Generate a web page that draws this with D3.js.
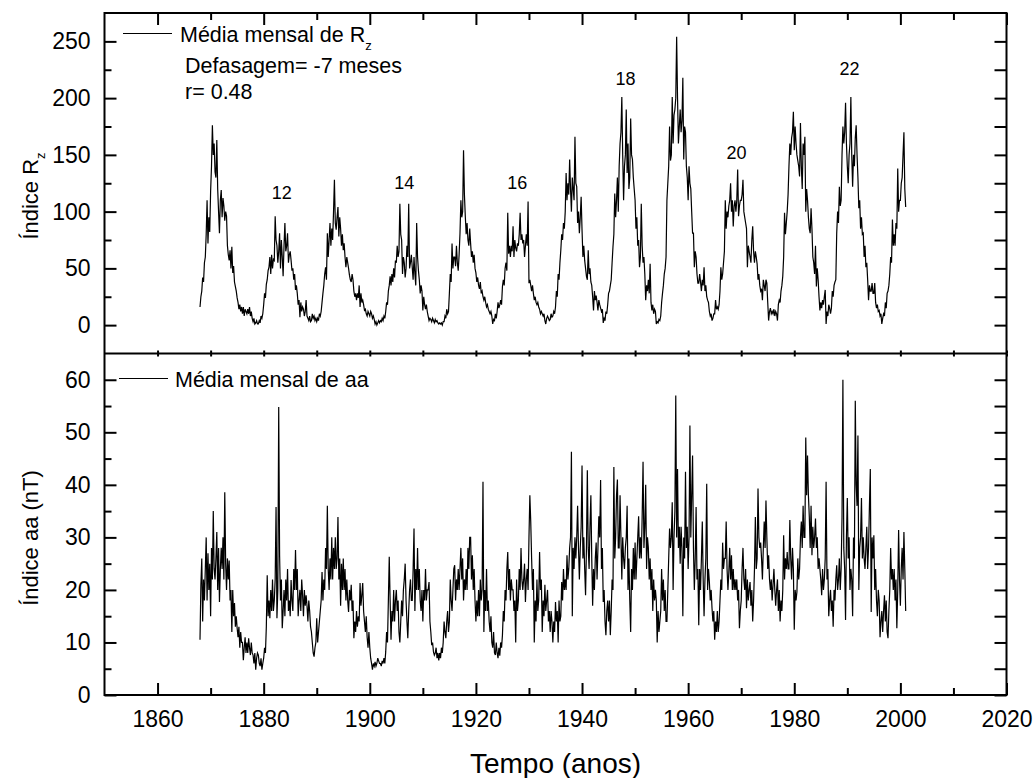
<!DOCTYPE html>
<html>
<head>
<meta charset="utf-8">
<script src="https://cdnjs.cloudflare.com/ajax/libs/d3/7.8.5/d3.min.js"></script>
<style>
body { margin: 0; background: #fff; }
svg { display: block; font-family: Arial, "Liberation Sans", sans-serif; }
.tick text { font-family: Arial, "Liberation Sans", sans-serif; font-size: 23px; fill: #000; }
.tick line { stroke: #000; stroke-width: 2; }
</style>
</head>
<body>
<svg id="chart" width="1036" height="778"></svg>
<script>
var startYear = 1868;
var stepYears = 1 / 6;

// sunspot number Rz, 1868.0 ... 2001.0 (five years per row)
var rzValues = [
  16,25,30,42,38,55, 60,80,110,72,95,82, 118,140,176,150,160,135, 130,163,120,100,81,110, 119,95,112,105,92,100,
  96,70,62,57,66,50, 69,46,52,38,34,30, 24,20,14,18,12,16, 10,16,8,14,12,10, 14,10,16,8,12,6,
  3,6,1,2,4,1, 1,4,2,8,6,10, 18,28,24,36,40,48, 51,60,45,62,50,58, 57,96,75,70,55,65,
  81,50,75,60,43,70, 90,65,70,81,55,62, 65,57,48,50,40,45, 31,35,28,18,22,7, 20,12,16,14,8,12,
  22,8,6,4,8,3, 4,10,6,8,4,6, 3,6,4,10,8,12, 20,28,35,45,51,40, 81,60,75,90,70,85,
  75,100,128,90,84,95, 104,78,95,85,70,80, 66,72,60,51,60,55, 50,44,40,38,45,40, 30,25,28,22,28,24,
  35,16,28,20,22,18, 13,14,10,8,12,10, 8,12,10,6,8,5, 1,3,0,2,4,2, 4,3,6,4,8,6,
  12,20,18,30,35,43, 35,45,38,50,42,57, 55,70,60,65,107,80, 75,45,60,55,42,50, 70,60,107,50,55,62,
  51,40,60,45,35,90, 60,48,40,28,35,30, 13,25,18,14,18,12, 8,4,6,5,3,6, 4,2,5,3,4,2,
  1,2,1,2,0,3, 3,8,6,14,10,12, 28,45,38,72,50,60, 60,52,70,55,48,62, 81,110,95,100,154,115,
  96,80,90,75,70,85, 72,60,65,55,62,50, 46,38,42,35,32,38, 28,30,25,22,25,20, 16,18,14,12,10,12,
  8,1,5,4,10,6, 12,20,15,18,22,18, 34,40,35,50,55,48, 99,63,70,60,70,65, 87,60,75,68,65,72,
  70,80,99,75,80,72, 75,60,70,80,70,109, 37,40,35,30,35,28, 22,25,20,18,20,16, 14,10,12,10,8,10,
  4,1,6,8,6,4, 5,10,7,8,12,10, 16,30,25,45,40,55, 66,80,75,90,85,100, 134,110,125,115,146,120,
  100,130,120,110,166,125, 122,90,100,81,95,113, 84,60,70,57,50,43, 40,66,45,50,38,35, 25,13,30,22,26,20,
  13,22,18,15,12,14, 2,6,4,12,10,18, 28,30,35,40,55,69, 80,116,95,110,130,100, 140,160,170,201,150,110,
  140,150,190,134,160,120, 130,182,150,146,130,120, 110,85,95,70,75,51, 60,107,70,55,60,45, 22,35,30,40,28,54,
  20,13,18,10,14,12, 1,3,2,5,4,8, 20,28,35,45,50,60, 110,125,140,175,145,150, 201,160,185,190,200,254,
  200,160,175,190,170,180, 218,146,175,170,140,130, 110,140,125,120,100,81, 81,51,65,60,45,37, 37,45,38,30,40,35,
  51,30,35,25,22,20, 12,8,10,4,6,10, 10,22,14,16,14,18, 30,51,40,45,55,65, 110,85,100,95,105,110,
  125,100,110,87,105,110, 100,110,137,96,105,110, 110,115,128,100,95,90, 85,51,70,65,60,55, 75,87,65,55,65,60,
  54,40,45,35,30,32, 22,40,35,30,40,37, 20,4,12,15,10,12, 10,14,8,12,10,4, 18,22,20,30,35,43,
  60,99,80,90,100,115, 140,160,150,165,170,188, 154,175,160,150,145,140, 131,178,140,120,160,150, 166,100,120,110,95,85,
  81,103,85,60,55,45, 70,34,50,40,25,13, 20,15,22,18,25,31, 1,12,8,18,15,10, 15,30,25,35,38,40,
  81,100,90,122,105,110, 150,175,160,170,196,160, 140,125,150,160,201,150, 122,150,140,165,176,150, 130,103,110,85,95,80,
  81,60,70,51,55,40, 22,35,30,30,37,28, 28,37,20,15,18,12, 13,8,10,1,6,10, 8,20,15,28,30,35,
  45,60,55,93,70,80, 70,90,85,138,100,110, 110,125,130,150,170,120,
  104
];

// geomagnetic index aa (nT), 1868.0 ... 2001.0 (five years per row)
var aaValues = [
  10.5,21,26,14,22,18, 24,30,18,27,20,25, 15,28,22,35,24,22, 26,31,20,28,17.7,24, 28,24,30,22,38.6,25,
  20,26,22,25.6,18,20, 12,20,15,17.5,13,15, 12.7,11,13,9,12,10, 10,6.6,9,11,8,10, 8,10.8,9,7.6,10,8,
  7.6,6,8,4.8,7,8, 7.6,6,5.5,7,4.8,6, 7,9,8,13,22.8,15, 18,14.6,20,16,22,16, 18,22,35.8,14.6,20,54.8,
  26.6,18,22,12.7,16,20, 15,22,18,24,16,18, 15,21.9,18,16,24,20, 27.6,20,24,15,18,20, 16,22,19,15,20,17,
  19,17,14,18,16,13, 12,10,8,7.3,9,10, 14.6,10,12,14,16,18, 23.4,18,22,20,28,24, 36,24,20,26,22,30,
  22,28,24,30,24,26, 33.9,22,26,17,25,20, 26,20,24,18,22,18, 15.8,20,18,21,16,18, 10.8,14,12,16,13,15,
  14,21.3,17,19,21.3,16, 14,12,15,11,9,12, 9,7,6,4.8,6,5.5, 6.3,5.5,6,7,6.5,6, 6,5.5,6.5,6,7,6,
  8.2,12,10,18,26.3,18, 10.5,16,14,20,14,18, 20,16,18,12,10,14, 18,15,20,22,25,18, 14,10.8,16,20,22,18,
  18,24,31.7,16,24,20, 28,20,24,18,16,20, 14,20,18,24,18,20, 20,21.5,14,12,9.5,10, 8.2,7.6,8,9,7,8,
  6.6,8,7,9,8,10, 14,12,10.8,14,16,12, 14,22,18,16,20,24, 24.7,18,22,20,24,20, 24,28,22,26,18,22,
  20,24,20,28,24,30, 30,22,26.6,20,24,18, 14,18,15,20,15,22, 18,20,40.6,12,20,16, 24,16,18,14,12,15,
  10,9,12,8,7.6,10, 8,7,9,7.5,10,9, 11.4,16,14,20,18,24, 27.2,20,24,18,22,20, 20,16,18,10,22,16,
  18,24,20,28,22,20, 22,25,17.7,22,24,20, 30,38,33,26,20,24, 10,18,14,22,16,18, 27.2,20,22,12,18,15,
  21,16,18,20,14,16, 12,16,14,10,14,12, 17.7,14,16,10,18,14, 15,21.5,18,24,20,22, 20,26.6,22,24,28,30,
  46.3,15,28,24,30,26, 30,36,28,22,28,32, 43.7,26,30,24,19,28, 42.8,28,24,32,38,26, 17,24,20,26,29,22,
  28,34,30,40.9,24,28, 17.7,20,14,11.4,16,18, 14,18,11.4,16,22,20, 43.4,26,30,38,41,28, 28,38,30,22,30,26,
  24,28,30,36,20,26, 18,12,24,20,28,22, 29,22,26,30,34,26, 30,26,34,44.4,28,32, 40,24,30,28,22,26,
  20,24,16,22,18,20, 18,10,16,12,14,16, 24,18,22,16,20,14, 14,20,26,31.7,28,30, 36.7,20,30,35,57,30,
  43,28,32,25,32,28, 15,30,26,42.5,28,32, 24,30,51.3,30,38,45.6, 28,20,26,35.8,22,24, 13.3,24,20,26,33,22,
  15,22,26,40.2,20,24, 21.5,18,20,16.5,14,16, 10.5,14,12,16,12,14, 18,22,20,29,24,26, 26,33,24,20,23.4,28,
  22,26.6,20,24,20,22, 20,22,18,20,12.7,16, 18,24,28,22,20,24, 16.5,22,18,20,21.5,17, 20,14,18,24,33.9,24,
  26,39.3,30,28,29,26, 22,28,33,28,37,30, 24,26.6,22,20,22,18, 21,24,20,17,20,22, 16,20,14,18,16,20,
  30.4,22,26,24,27.2,24, 24,33.3,26,22,28,24, 12.4,20,18,19.6,26,22, 24,30,33,28,36,30, 30,49,38,45.6,38,34,
  28,36,26.6,32,28,30, 33.6,28,30,24,26,24, 22,19,24,20,22,26, 40.6,22,24,15,18,20, 16,18,13,20,18,22,
  24.7,20,22,26,20,24, 33.9,60,28,24,14.3,30, 37.5,26,30,20,24,22, 15,30,26,56,40,36, 49.4,20,28,30,37.5,26,
  30,26,24,28,32,24, 28,36,43,15.8,30,26, 30.4,20,24,18,15,20, 18,11,14,16,12,16, 19,14,18,12,10.8,16,
  20,28,22,24,20,24, 18,22,12.7,20,31.4,22, 17,24,28,22,31,24,
  16
];

// axis ticks
var yearMajor = [1860, 1880, 1900, 1920, 1940, 1960, 1980, 2000, 2020];
var yearMinor = [1870, 1890, 1910, 1930, 1950, 1970, 1990, 2010];
var rzMajor = [0, 50, 100, 150, 200, 250];
var rzMinor = [25, 75, 125, 175, 225];
var aaMajor = [0, 10, 20, 30, 40, 50, 60];
var aaMinor = [5, 15, 25, 35, 45, 55];

// solar cycle numbers written over the Rz curve
var cycleNames = ["12", "14", "16", "18", "20", "22"];
var cycleYears = [1883.4, 1906.5, 1927.8, 1948.2, 1969.1, 1990.4];
var cycleLevels = [111, 120, 120, 212, 146, 220];

var svg = d3.select("#chart");
var M = {left: 104.5, right: 1006.5, top: 13, mid: 353.5, bottom: 695};

var x = d3.scaleLinear().domain([1850, 2020]).range([M.left, M.right]);
var yTop = d3.scaleLinear().domain([-25, 275]).range([M.mid, M.top]);
var yBot = d3.scaleLinear().domain([0, 65]).range([M.bottom, M.mid]);

function noDomain(g) { g.select(".domain").remove(); }

function yearOf(i) { return startYear + i * stepYears; }

// series lines
svg.append("path")
    .datum(rzValues)
    .attr("fill", "none")
    .attr("stroke", "#000")
    .attr("stroke-width", 1.2)
    .attr("d", d3.line().x(function(d, i) { return x(yearOf(i)); }).y(function(d) { return yTop(d); }));

svg.append("path")
    .datum(aaValues)
    .attr("fill", "none")
    .attr("stroke", "#000")
    .attr("stroke-width", 1.2)
    .attr("d", d3.line().x(function(d, i) { return x(yearOf(i)); }).y(function(d) { return yBot(d); }));

// x axis at the bottom
svg.append("g")
    .attr("transform", "translate(0," + M.bottom + ")")
    .call(d3.axisBottom(x).tickValues(yearMajor).tickSize(-12).tickPadding(16).tickFormat(d3.format("d")))
    .call(noDomain);
svg.append("g")
    .attr("transform", "translate(0," + M.bottom + ")")
    .call(d3.axisBottom(x).tickValues(yearMinor).tickSize(-7).tickFormat(""))
    .call(noDomain);

// top frame ticks
svg.append("g")
    .attr("transform", "translate(0," + M.top + ")")
    .call(d3.axisTop(x).tickValues(yearMajor).tickSize(-12).tickFormat(""))
    .call(noDomain);
svg.append("g")
    .attr("transform", "translate(0," + M.top + ")")
    .call(d3.axisTop(x).tickValues(yearMinor).tickSize(-7).tickFormat(""))
    .call(noDomain);

// little ticks on the divider
svg.append("g")
    .attr("transform", "translate(0," + M.mid + ")")
    .call(d3.axisBottom(x).tickValues(yearMajor.concat(yearMinor)).tickSize(3).tickFormat(""))
    .call(noDomain);
svg.append("g")
    .attr("transform", "translate(0," + M.mid + ")")
    .call(d3.axisTop(x).tickValues(yearMajor.concat(yearMinor)).tickSize(3).tickFormat(""))
    .call(noDomain);

// left axes
svg.append("g")
    .attr("transform", "translate(" + M.left + ",0)")
    .call(d3.axisLeft(yTop).tickValues(rzMajor).tickSize(-12).tickPadding(14))
    .call(noDomain);
svg.append("g")
    .attr("transform", "translate(" + M.left + ",0)")
    .call(d3.axisLeft(yTop).tickValues(rzMinor).tickSize(-7).tickFormat(""))
    .call(noDomain);
svg.append("g")
    .attr("transform", "translate(" + M.left + ",0)")
    .call(d3.axisLeft(yBot).tickValues(aaMajor).tickSize(-12).tickPadding(14))
    .call(noDomain);
svg.append("g")
    .attr("transform", "translate(" + M.left + ",0)")
    .call(d3.axisLeft(yBot).tickValues(aaMinor).tickSize(-7).tickFormat(""))
    .call(noDomain);

// right axes, all ticks the same length
svg.append("g")
    .attr("transform", "translate(" + M.right + ",0)")
    .call(d3.axisRight(yTop).tickValues(rzMajor.concat(rzMinor)).tickSize(-12).tickFormat(""))
    .call(noDomain);
svg.append("g")
    .attr("transform", "translate(" + M.right + ",0)")
    .call(d3.axisRight(yBot).tickValues(aaMajor.concat(aaMinor)).tickSize(-12).tickFormat(""))
    .call(noDomain);

// frame and divider
svg.append("rect")
    .attr("x", M.left).attr("y", M.top)
    .attr("width", M.right - M.left).attr("height", M.bottom - M.top)
    .attr("fill", "none").attr("stroke", "#000").attr("stroke-width", 2);
svg.append("line")
    .attr("x1", M.left).attr("x2", M.right)
    .attr("y1", M.mid).attr("y2", M.mid)
    .attr("stroke", "#000").attr("stroke-width", 2);

// cycle numbers
svg.selectAll(".cycle")
    .data(cycleNames)
  .enter().append("text")
    .attr("class", "cycle")
    .attr("x", function(d, i) { return x(cycleYears[i]); })
    .attr("y", function(d, i) { return yTop(cycleLevels[i]); })
    .attr("text-anchor", "middle")
    .attr("font-size", 18)
    .text(function(d) { return d; });

// legend, upper panel
svg.append("line").attr("x1", 123).attr("x2", 172).attr("y1", 33.5).attr("y2", 33.5)
    .attr("stroke", "#000").attr("stroke-width", 1);
var lt = svg.append("text").attr("x", 180).attr("y", 41.7).attr("font-size", 21.5);
lt.append("tspan").text("Média mensal de R");
lt.append("tspan").attr("font-size", 13).attr("dy", 8).text("z");
svg.append("text").attr("x", 185).attr("y", 73.3).attr("font-size", 21.5).text("Defasagem= -7 meses");
svg.append("text").attr("x", 185).attr("y", 99.3).attr("font-size", 21.5).text("r= 0.48");

// legend, lower panel
svg.append("line").attr("x1", 119).attr("x2", 168).attr("y1", 378.5).attr("y2", 378.5)
    .attr("stroke", "#000").attr("stroke-width", 1);
svg.append("text").attr("x", 175).attr("y", 387).attr("font-size", 21.5).text("Média mensal de aa");

// axis titles
var t1 = svg.append("text")
    .attr("transform", "translate(38,196) rotate(-90)")
    .attr("text-anchor", "middle")
    .attr("font-size", 22);
t1.append("tspan").text("Índice R");
t1.append("tspan").attr("font-size", 13).attr("dy", 7).text("z");

svg.append("text")
    .attr("transform", "translate(38,538) rotate(-90)")
    .attr("text-anchor", "middle")
    .attr("font-size", 22)
    .text("Índice aa (nT)");

svg.append("text")
    .attr("x", 555.5).attr("y", 773)
    .attr("text-anchor", "middle")
    .attr("font-size", 28)
    .text("Tempo (anos)");
</script>
</body>
</html>
